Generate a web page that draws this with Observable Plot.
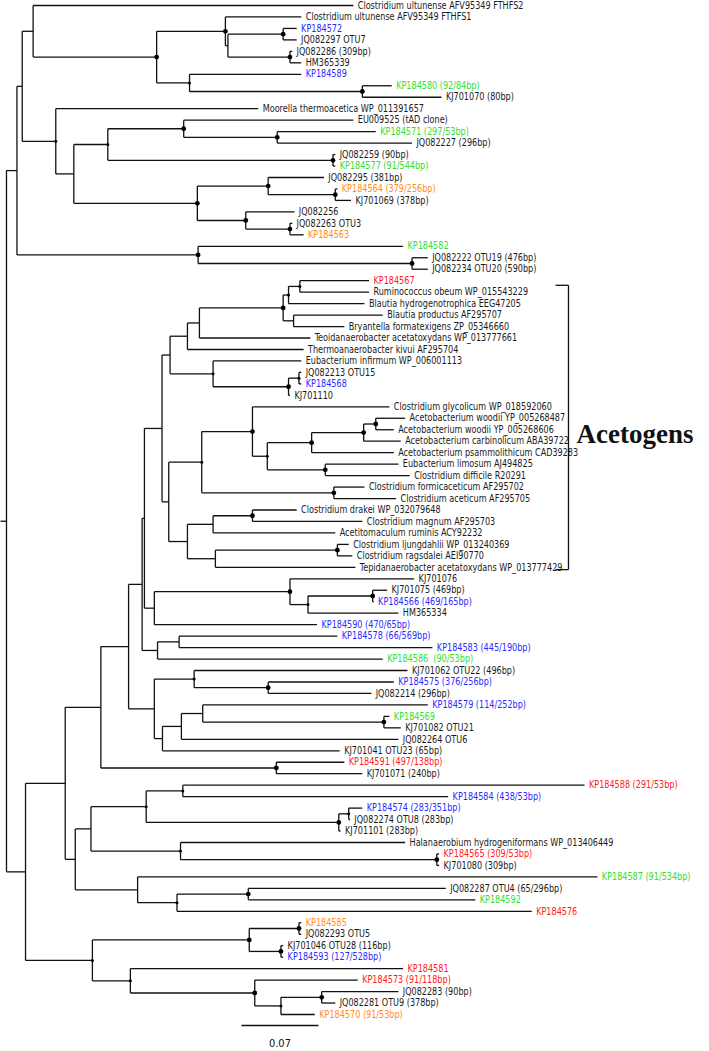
<!DOCTYPE html>
<html><head><meta charset="utf-8">
<script src="https://cdn.jsdelivr.net/npm/d3@7"></script>
<script src="https://cdn.jsdelivr.net/npm/@observablehq/plot@0.6"></script>
<style>body{margin:0;background:#fff} svg{display:block}</style>
</head><body><div id="chart"></div>
<script>
// ---- Leaves (top to bottom) ----
const leafNames = [
"Clostridium ultunense AFV95349 FTHFS2","Clostridium ultunense AFV95349 FTHFS1","KP184572","JQ082297 OTU7",
"JQ082286 (309bp)","HM365339","KP184589","KP184580 (92/84bp)","KJ701070 (80bp)","Moorella thermoacetica WP_011391657",
"EU009525 (tAD clone)","KP184571 (297/53bp)","JQ082227 (296bp)","JQ082259 (90bp)","KP184577 (91/544bp)",
"JQ082295 (381bp)","KP184564 (379/256bp)","KJ701069 (378bp)","JQ082256","JQ082263 OTU3","KP184563","KP184582",
"JQ082222 OTU19 (476bp)","JQ082234 OTU20 (590bp)","KP184567","Ruminococcus obeum WP_015543229",
"Blautia hydrogenotrophica EEG47205","Blautia productus AF295707","Bryantella formatexigens ZP_05346660",
"Teoidanaerobacter acetatoxydans WP_013777661","Thermoanaerobacter kivui AF295704","Eubacterium infirmum WP_006001113",
"JQ082213 OTU15","KP184568","KJ701110","Clostridium glycolicum WP_018592060","Acetobacterium woodii YP_005268487",
"Acetobacterium woodii YP_005268606","Acetobacterium carbinolicum ABA39722","Acetobacterium psammolithicum CAD39283",
"Eubacterium limosum AJ494825","Clostridium difficile R20291","Clostridium formicaceticum AF295702",
"Clostridium aceticum AF295705","Clostridium drakei WP_032079648","Clostridium magnum AF295703",
"Acetitomaculum ruminis ACY92232","Clostridium ljungdahlii WP_013240369","Clostridium ragsdalei AEI90770",
"Tepidanaerobacter acetatoxydans WP_013777429","KJ701076","KJ701075 (469bp)","KP184566 (469/165bp)","HM365334",
"KP184590 (470/65bp)","KP184578 (66/569bp)","KP184583 (445/190bp)","KP184586  (90/53bp)","KJ701062 OTU22 (496bp)",
"KP184575 (376/256bp)","JQ082214 (296bp)","KP184579 (114/252bp)","KP184569","KJ701082 OTU21","JQ082264 OTU6",
"KJ701041 OTU23 (65bp)","KP184591 (497/138bp)","KJ701071 (240bp)","KP184588 (291/53bp)","KP184584 (438/53bp)",
"KP184574 (283/351bp)","JQ082274 OTU8 (283bp)","KJ701101 (283bp)","Halanaerobium hydrogeniformans WP_013406449",
"KP184565 (309/53bp)","KJ701080 (309bp)","KP184587 (91/534bp)","JQ082287 OTU4 (65/296bp)","KP184592","KP184576",
"KP184585","JQ082293 OTU5","KJ701046 OTU28 (116bp)","KP184593 (127/528bp)","KP184581","KP184573 (91/118bp)",
"JQ082283 (90bp)","JQ082281 OTU9 (378bp)","KP184570 (91/53bp)"
];
const leafGroups = [
"k","k","b","k","k","k","b","g","k","k",
"k","g","k","k","g","k","o","k","k","k","o","g",
"k","k","r","k","k","k","k","k","k","k",
"k","b","k","k","k","k","k","k","k","k","k","k","k","k","k","k","k","k",
"k","k","b","k","b","b","b","g","k","b","k","b","g","k","k","k","r","k","r","b",
"b","k","k","k","r","k","g","k","g","r","o","k","k","b","r","r","k","k","o"
];
const leafParents = [
"A","D","F","F","G","G","H","I","I","J","M","O","O","N","N","Q","R","R","S","T","T","U","V","V",
"W","W","X","Z","Z","AA","AB","AD","AF","AF","AE","AK","AQ","AQ","AP","AN","AO","AO","AL","AL",
"AT","AT","AR","AU","AU","AS","BA","BB","BB","BC","BD","BF","BF","BE","BH","BJ","BJ","BL","BM","BM",
"BK","BI","BO","BO","BW","BW","BY","BY","BX","BV","BZ","BZ","BT","CB","CB","CA","CF","CF","CG","CG",
"CE","CH","CJ","CJ","CI"
];
// cumulative distance from root (substitutions per site)
const leafDepths = [
0.3153,0.2680,0.2638,0.2638,0.2598,0.2680,0.2680,0.3502,0.3954,0.2289,
0.3153,0.3357,0.3687,0.2989,0.2989,0.2886,0.3008,0.3132,0.2618,0.2598,0.2701,0.3605,
0.3830,0.3830,0.3296,0.3296,0.3254,0.3420,0.3071,0.2762,0.2701,0.2680,
0.2680,0.2680,0.2577,0.3481,0.3624,0.3521,0.3584,0.3521,0.3563,0.3666,0.3254,0.3542,
0.2638,0.3235,0.2989,0.3111,0.3144,0.3172,0.3706,0.3460,0.3338,0.3563,
0.2823,0.3008,0.3872,0.3420,0.3645,0.3521,0.3317,0.3830,0.3481,0.3584,
0.3563,0.3029,0.3071,0.3235,0.5255,0.4015,0.3235,0.3123,0.3037,0.3624,
0.3933,0.3933,0.5372,0.3994,0.4262,0.4775,0.2680,0.2680,0.2515,0.2515,
0.3605,0.3193,0.3563,0.2989,0.2803
];

// ---- Internal nodes ----
const nodeIds = ["root","R1","B","A","C","D","E","F","G","H","I","J","K","L","M","O","N","P","Q","R","S","T","U","V",
"BQ","BP","BN","AX","AY","AV","AG","AC","AB","AA","Y","X","W","Z","AD","AE","AF","AH","AI","AK","AM","AN","AP","AQ","AO","AL",
"AJ","AR","AT","AS","AU","BD","BA","BC","BB","BE","BF","BG","BH","BJ","BI","BK","BL","BM","BO",
"BR","BS","BU","BW","BX","BY","BV","BZ","BT","CA","CB","CC","CD","CF","CG","CE","CH","CI","CJ"];
const nodeParents = [null,"root","R1","B","A","C","D","E","E","C","H","B","J","K","L","M","L","K","P","Q","P","S","R1","U",
"root","BQ","BP","BN","AX","AY","AV","AG","AC","AB","AA","Y","X","Y","AC","AD","AE","AG","AH","AI","AK","AM","AN","AP","AM","AI",
"AH","AJ","AR","AJ","AS","AV","BD","BA","BC","AY","BE","AX","BG","BH","BG","BI","BK","BL","BN",
"BP","BR","BS","BU","BU","BX","BS","BV","BR","BT","CA","BQ","CC","CD","CD","CC","CE","CH","CI"];
const nodeDepths = [0,0.0095,0.0143,0.0242,0.1365,0.1990,0.2013,0.2515,0.2577,0.1664,0.3235,0.0448,0.0612,0.0921,0.1611,0.2461,0.2968,0.1735,0.2379,0.2989,0.2175,0.2577,0.1742,0.3687,
0.0173,0.0534,0.0858,0.1110,0.1233,0.1254,0.1414,0.1487,0.1645,0.1754,0.2515,0.2564,0.2667,0.2610,0.1878,0.2564,0.2659,0.1475,0.1775,0.2236,0.2371,0.2774,0.3247,0.3357,0.2898,0.2976,
0.1645,0.1878,0.2236,0.1899,0.3008,0.1344,0.2577,0.2741,0.3329,0.1373,0.1569,0.1344,0.1706,0.2379,0.1418,0.1590,0.1784,0.3431,0.2453,
0.0625,0.0768,0.1270,0.1603,0.3021,0.3111,0.1582,0.3912,0.1192,0.1550,0.2198,0.0781,0.2207,0.2659,0.2495,0.1126,0.2257,0.2495,0.2865];
// node support marker: 2 = large dot, 1 = small dot, 0 = none
const nodeSupport = [0,0,0,0,2,2,0,2,2,1,2,1,0,1,2,2,2,2,2,2,2,2,2,2,
0,0,0,0,0,0,0,0,0,0,2,1,1,0,1,2,1,0,1,2,1,2,2,2,2,2,
0,0,2,0,2,0,2,1,2,0,0,0,1,2,0,0,0,2,2,
0,0,1,1,2,1,1,2,0,1,2,1,2,2,2,1,2,1,2];

const groupColors = {k:"#1a1a1a", b:"#2a2aff", g:"#33dd33", o:"#ff8c1a", r:"#ff2020"};
const scaleBarLength = 0.07;
const cladeName = "Acetogens";

// ---- Build tree ----
const depth = new Map(), parent = new Map(), ypos = new Map(), children = new Map(), support = new Map();
nodeIds.forEach((id,i)=>{depth.set(id,nodeDepths[i]); parent.set(id,nodeParents[i]); support.set(id,nodeSupport[i]);});
leafNames.forEach((n,i)=>{const id="L"+i; depth.set(id,leafDepths[i]); parent.set(id,leafParents[i]); ypos.set(id,i);});
for (const [id,p] of parent) if (p) { if(!children.has(p)) children.set(p,[]); children.get(p).push(id); }
function getY(id){ if (ypos.has(id)) return ypos.get(id); const ys = children.get(id).map(getY); const y=(Math.min(...ys)+Math.max(...ys))/2; ypos.set(id,y); return y; }
getY("root");
const segs = [];
for (const [id,p] of parent) if (p) segs.push({x1:depth.get(p), x2:depth.get(id), y1:ypos.get(id), y2:ypos.get(id)});
for (const id of nodeIds) { const ys = children.get(id).map(c=>ypos.get(c)); segs.push({x1:depth.get(id), x2:depth.get(id), y1:Math.min(...ys), y2:Math.max(...ys)}); }
const rootY = ypos.get("root");
const xMin = -0.00545;
segs.push({x1:xMin, x2:0, y1:rootY, y2:rootY});
const bigDots = nodeIds.filter(id=>support.get(id)===2).map(id=>({x:depth.get(id), y:ypos.get(id)}));
const smallDots = nodeIds.filter(id=>support.get(id)===1).map(id=>({x:depth.get(id), y:ypos.get(id)}));
const leaves = leafNames.map((n,i)=>({name:n, x:leafDepths[i], y:i, color:groupColors[leafGroups[i]]}));

const sbX0 = 0.2136, sbY = 88.96;
const brX0 = 0.4991, brX1 = 0.5109, brY0 = 24.4, brY1 = 49.2;
const font = "'Liberation Sans Narrow','Arial Narrow','DejaVu Sans Condensed',sans-serif";

const chart = Plot.plot({
  width: 709, height: 1051, margin: 0,
  x: {domain: [xMin, 0.6391], range:[0,709], axis: null},
  y: {domain: [0, 88], range: [5, 1014], axis: null},
  marks: [
    Plot.link(segs, {x1:"x1", y1:"y1", x2:"x2", y2:"y2", stroke:"#111", strokeWidth:1.3}),
    Plot.dot(bigDots, {x:"x", y:"y", r:2.4, fill:"#000"}),
    Plot.dot(smallDots, {x:"x", y:"y", r:1.5, fill:"#000"}),
    Plot.text(leaves, {x:"x", y:"y", text:"name", fill:d=>d.color, textAnchor:"start", dx:4, fontSize:10, fontFamily:font, className:"leaf-labels"}),
    Plot.link([{a:sbX0, b:sbX0+scaleBarLength}], {x1:"a", x2:"b", y1:()=>sbY, y2:()=>sbY, stroke:"#111", strokeWidth:1.3}),
    Plot.text([scaleBarLength.toFixed(2)], {x:()=>sbX0+scaleBarLength/2, y:()=>90.5, text:d=>d, fontSize:11, fontFamily:font, fill:"#111"}),
    Plot.link([{x1:brX0,x2:brX1,y1:brY0,y2:brY0},{x1:brX1,x2:brX1,y1:brY0,y2:brY1},{x1:brX0,x2:brX1,y1:brY1,y2:brY1}],
      {x1:"x1",x2:"x2",y1:"y1",y2:"y2", stroke:"#111", strokeWidth:1.3}),
    Plot.text([cladeName], {x:()=>brX1, y:()=>37.4, text:d=>d, dx:8, textAnchor:"start", fontSize:27, fontWeight:"bold", fontFamily:"'Liberation Serif','Times New Roman',serif", fill:"#111"})
  ]
});
document.getElementById("chart").appendChild(chart);
// condense leaf labels horizontally (narrow typeface look), anchored at their start
const svgRect = chart.getBoundingClientRect();
const grp = chart.querySelector(".leaf-labels") || chart.querySelectorAll('g[aria-label="text"]')[0];
if (grp) for (const t of grp.querySelectorAll("text")) {
  const r = t.getBoundingClientRect();
  const x0 = r.left - svgRect.left;
  const old = t.getAttribute("transform") || "";
  t.setAttribute("transform", `translate(${x0},0) scale(0.9,1) translate(${-x0},0) ${old}`);
}
</script>
</body></html>
